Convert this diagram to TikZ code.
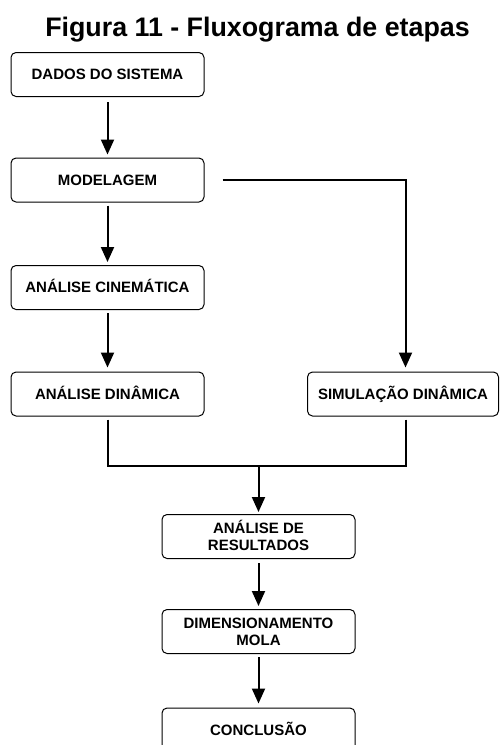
\documentclass[tikz,border=0pt]{standalone}
\usepackage{fontspec}
\setmainfont{Liberation Sans}
\usetikzlibrary{arrows.meta}
\begin{document}
\begin{tikzpicture}[x=1pt,y=-1pt,
    etapa/.style={draw, line width=1pt, rounded corners=5pt, minimum width=193pt,
        minimum height=44pt, align=center, text height=10.7pt, text depth=0pt,
        font=\bfseries\fontsize{15}{17.5}\selectfont},
    etapa dupla/.style={etapa, text height=28.2pt},
    linha/.style={line width=2pt},
    seta/.style={line width=2pt, -{Triangle[width=13pt,length=15pt]}}]
\useasboundingbox (0,0) rectangle (499,745);
\clip (0,0) rectangle (499,745);
\node[anchor=base, font=\bfseries\fontsize{26.8}{30}\selectfont] (titulo) at (257.5,36) {Figura 11 - Fluxograma de etapas};
\node[etapa] (dados) at (107.5,74.5) {DADOS DO SISTEMA};
\node[etapa] (modelagem) at (107.5,180) {MODELAGEM};
\node[etapa] (cinematica) at (107.5,287.5) {ANÁLISE CINEMÁTICA};
\node[etapa] (dinamica) at (107.5,394) {ANÁLISE DINÂMICA};
\node[etapa, minimum width=191pt] (simulacao) at (403,394) {SIMULAÇÃO DINÂMICA};
\node[etapa dupla] (resultados) at (258.5,536.5) {ANÁLISE DE\\RESULTADOS};
\node[etapa dupla] (dimensionamento) at (258.5,631.5) {DIMENSIONAMENTO\\MOLA};
\node[etapa] (conclusao) at (258.5,730) {CONCLUSÃO};
\coordinate (juncao) at (258.5,466);
\draw[seta, shorten <=5pt, shorten >=3pt] (dados) -- (modelagem);
\draw[seta, shorten <=3pt, shorten >=3pt] (modelagem) -- (cinematica);
\draw[seta, shorten <=3pt, shorten >=4pt] (cinematica) -- (dinamica);
\draw[seta, shorten >=4pt] ([xshift=18pt]modelagem.east) -| ([xshift=2.5pt]simulacao.north);
\draw[linha] ([yshift=-3pt]dinamica.south) |- (juncao);
\draw[linha] ([xshift=2.5pt,yshift=-3pt]simulacao.south) |- (juncao);
\draw[seta, shorten >=2pt] (juncao) -- (resultados);
\draw[seta, shorten <=4pt, shorten >=3pt] (resultados) -- (dimensionamento);
\draw[seta, shorten <=3pt, shorten >=4pt] (dimensionamento) -- (conclusao);
\end{tikzpicture}
\end{document}
